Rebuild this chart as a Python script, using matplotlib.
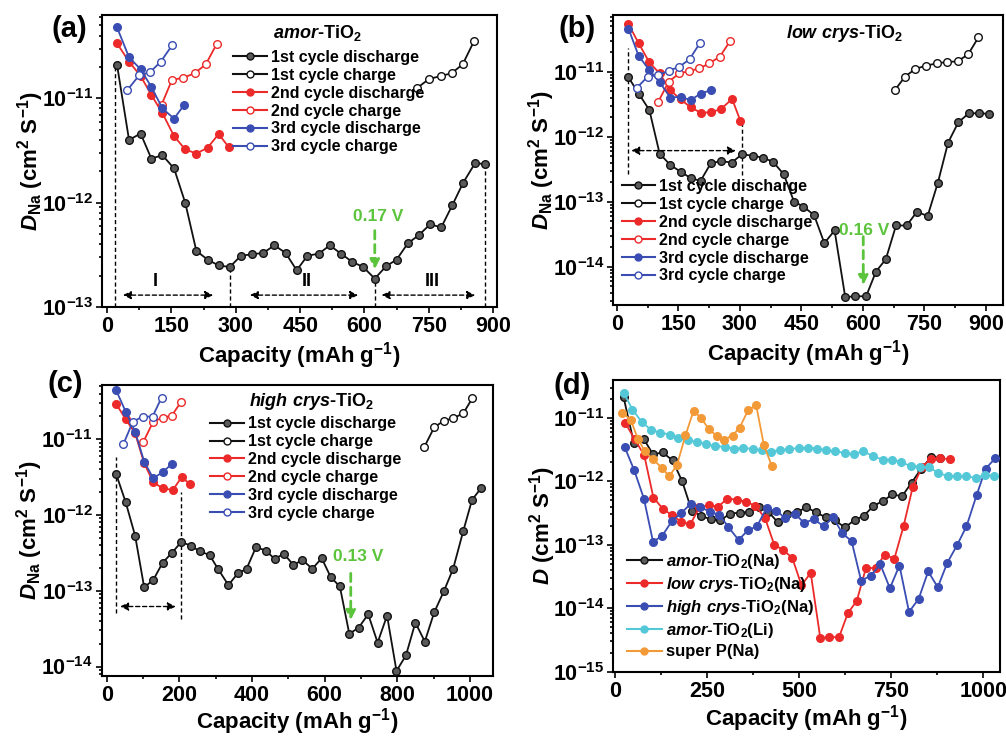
import numpy as np
import matplotlib
matplotlib.use('Agg')
import matplotlib.pyplot as plt
from matplotlib.ticker import LogLocator, MultipleLocator, NullFormatter, FuncFormatter, FixedLocator
from matplotlib.lines import Line2D

plt.rcParams['font.family'] = ['Liberation Sans', 'DejaVu Sans']
plt.rcParams['font.weight'] = 'bold'
plt.rcParams['axes.labelweight'] = 'bold'
plt.rcParams['mathtext.fontset'] = 'custom'
plt.rcParams['mathtext.rm'] = 'Liberation Sans:bold'
plt.rcParams['mathtext.bf'] = 'Liberation Sans:bold'
plt.rcParams['mathtext.sf'] = 'Liberation Sans:bold'
plt.rcParams['mathtext.it'] = 'Liberation Sans:italic:bold'

# ---------------- data ----------------
# (a) amor-TiO2
a_dis1_x = [23, 51, 78, 103, 129, 156, 182, 208, 234, 260, 286, 312, 338, 364, 390, 416, 442, 467, 494,
            519, 545, 572, 597, 624, 650, 675, 701, 727, 753, 779, 805, 830, 858, 881]
a_dis1_y = [2.1e-11, 4.0e-12, 4.6e-12, 2.65e-12, 2.85e-12, 2.13e-12, 1.0e-12, 3.45e-13, 2.85e-13, 2.5e-13,
            2.42e-13, 3.1e-13, 3.2e-13, 3.3e-13, 3.9e-13, 3.3e-13, 2.25e-13, 3.1e-13, 3.25e-13, 3.9e-13,
            3.25e-13, 2.7e-13, 2.42e-13, 1.87e-13, 2.45e-13, 2.85e-13, 4.07e-13, 4.9e-13, 6.2e-13, 5.8e-13,
            9.5e-13, 1.55e-12, 2.4e-12, 2.34e-12]
a_chg1_x = [723, 750, 778, 803, 829, 856]
a_chg1_y = [1.26e-11, 1.53e-11, 1.64e-11, 1.74e-11, 2.12e-11, 3.58e-11]
a_dis2_x = [23, 51, 78, 103, 129, 156, 182, 208, 234, 260, 283]
a_dis2_y = [3.37e-11, 2.25e-11, 1.64e-11, 1.08e-11, 7.2e-12, 4.35e-12, 3.24e-12, 2.96e-12, 3.36e-12,
            4.55e-12, 3.43e-12]
a_chg2_x = [127, 151, 178, 204, 230, 255]
a_chg2_y = [8.7e-12, 1.5e-11, 1.58e-11, 1.74e-11, 2.12e-11, 3.3e-11]
a_dis3_x = [23, 51, 78, 103, 129, 156, 179]
a_dis3_y = [4.8e-11, 2.48e-11, 1.9e-11, 1.29e-11, 8.0e-12, 6.4e-12, 8.6e-12]
a_chg3_x = [47, 75, 100, 125, 152]
a_chg3_y = [1.2e-11, 1.67e-11, 1.78e-11, 2.25e-11, 3.25e-11]

# (b) low crys-TiO2
b_dis1_x = [28, 53, 79, 104, 130, 155, 180, 204, 229, 254, 280, 305, 331, 356, 381, 407, 432, 455, 481,
            506, 531, 557, 582, 608, 632, 656, 681, 707, 732, 758, 783, 808, 833, 858, 883, 908]
b_dis1_y = [8.2e-12, 4.6e-12, 2.57e-12, 5.5e-13, 3.67e-13, 2.9e-13, 2.3e-13, 2.09e-13, 3.9e-13, 4.2e-13,
            4.0e-13, 5.35e-13, 5.1e-13, 4.75e-13, 4.1e-13, 2.63e-13, 1.0e-13, 8.4e-14, 6.2e-14, 2.3e-14,
            3.6e-14, 3.4e-15, 3.5e-15, 3.5e-15, 8.4e-15, 1.3e-14, 4.3e-14, 4.3e-14, 7.0e-14, 6.0e-14,
            1.95e-13, 8.1e-13, 1.66e-12, 2.28e-12, 2.3e-12, 2.24e-12]
b_chg1_x = [678, 703, 728, 754, 780, 805, 831, 857, 882]
b_chg1_y = [5.2e-12, 8.4e-12, 1.1e-11, 1.24e-11, 1.34e-11, 1.41e-11, 1.44e-11, 1.85e-11, 3.37e-11]
b_dis2_x = [28, 53, 79, 104, 130, 155, 180, 204, 229, 254, 281, 301]
b_dis2_y = [5.4e-11, 2.73e-11, 1.39e-11, 9.4e-12, 5.2e-12, 3.75e-12, 2.83e-12, 2.34e-12, 2.37e-12,
            2.67e-12, 3.8e-12, 1.76e-12]
b_chg2_x = [100, 126, 152, 176, 201, 225, 251, 276]
b_chg2_y = [3.37e-12, 7.0e-12, 9.4e-12, 1.02e-11, 1.12e-11, 1.34e-11, 1.7e-11, 2.96e-11]
b_dis3_x = [28, 53, 79, 104, 130, 155, 180, 204, 229]
b_dis3_y = [4.6e-11, 1.74e-11, 1.06e-11, 6.9e-12, 4.0e-12, 4.1e-12, 3.66e-12, 4.6e-12, 5.2e-12]
b_chg3_x = [49, 75, 101, 126, 152, 177, 203]
b_chg3_y = [5.7e-12, 8.4e-12, 8.9e-12, 1.03e-11, 1.19e-11, 1.55e-11, 2.8e-11]

# (c) high crys-TiO2
c_dis1_x = [26, 52, 78, 103, 128, 154, 180, 205, 231, 257, 283, 307, 335, 361, 385, 411, 438, 462, 488,
            514, 539, 566, 592, 617, 642, 668, 694, 720, 746, 772, 798, 824, 850, 876, 902, 929, 954, 982,
            1006, 1032]
c_dis1_y = [3.45e-12, 1.48e-12, 5.35e-13, 1.11e-13, 1.39e-13, 2.35e-13, 3.19e-13, 4.4e-13, 3.95e-13,
            3.3e-13, 2.97e-13, 1.92e-13, 1.19e-13, 1.7e-13, 1.95e-13, 3.76e-13, 3.4e-13, 2.64e-13, 3.07e-13,
            2.19e-13, 2.55e-13, 1.95e-13, 2.69e-13, 1.51e-13, 1.14e-13, 2.7e-14, 3.27e-14, 4.9e-14, 2.07e-14,
            4.7e-14, 8.75e-15, 1.4e-14, 3.8e-14, 2.14e-14, 5.2e-14, 1.0e-13, 1.95e-13, 6.17e-13, 1.58e-12,
            2.3e-12]
c_chg1_x = [874, 902, 929, 954, 982, 1007]
c_chg1_y = [7.8e-12, 1.44e-11, 1.76e-11, 1.89e-11, 2.2e-11, 3.48e-11]
c_dis2_x = [26, 52, 78, 103, 128, 154, 182, 206, 229]
c_dis2_y = [2.92e-11, 1.84e-11, 1.2e-11, 4.82e-12, 2.71e-12, 2.25e-12, 2.14e-12, 3.15e-12, 2.57e-12]
c_chg2_x = [101, 128, 154, 179, 205]
c_chg2_y = [9.3e-12, 1.71e-11, 1.93e-11, 2.05e-11, 3.14e-11]
c_dis3_x = [26, 52, 78, 103, 128, 156, 179]
c_dis3_y = [4.4e-11, 2.32e-11, 1.26e-11, 5.07e-12, 3.05e-12, 3.74e-12, 4.72e-12]
c_chg3_x = [46, 72, 99, 126, 151]
c_chg3_y = [8.7e-12, 1.71e-11, 1.99e-11, 1.99e-11, 3.55e-11]

# (d) extra series
d_li_x = [23, 47, 72, 98, 122, 148, 172, 197, 222, 247, 272, 299, 323, 348, 373, 398, 423, 448, 473, 498,
          523, 548, 573, 597, 623, 649, 674, 700, 726, 751, 776, 803, 828, 853, 878, 903, 928, 953, 980,
          1005, 1029]
d_li_y = [2.48e-11, 1.35e-11, 8.65e-12, 6.4e-12, 5.86e-12, 5.45e-12, 4.83e-12, 4.44e-12, 4.18e-12, 3.84e-12,
          3.57e-12, 3.49e-12, 3.28e-12, 3.36e-12, 3.24e-12, 3.09e-12, 2.94e-12, 3.09e-12, 3.24e-12, 3.32e-12,
          3.4e-12, 3.28e-12, 3.09e-12, 2.98e-12, 2.8e-12, 2.67e-12, 2.98e-12, 2.48e-12, 2.2e-12, 2.2e-12,
          2.02e-12, 1.72e-12, 1.7e-12, 1.65e-12, 1.35e-12, 1.21e-12, 1.2e-12, 1.2e-12, 1.13e-12, 1.27e-12,
          1.2e-12]
d_sp_x = [19, 42, 62, 81, 103, 126, 147, 168, 191, 213, 233, 254, 276, 296, 319, 338, 362, 383, 404, 425]
d_sp_y = [1.2e-11, 9.4e-12, 4.6e-12, 2.98e-12, 2.22e-12, 1.64e-12, 1.2e-12, 1.81e-12, 5.3e-12, 1.29e-11,
          1.0e-11, 6.7e-12, 5.14e-12, 4.55e-12, 5.26e-12, 7.0e-12, 1.35e-11, 1.57e-11, 3.7e-12, 1.77e-12]

cycle_labels = ['1st cycle discharge', '1st cycle charge', '2nd cycle discharge',
                '2nd cycle charge', '3rd cycle discharge', '3rd cycle charge']
d_labels = [r'$\mathit{amor}$-TiO$_2$(Na)', r'$\mathit{low\ crys}$-TiO$_2$(Na)',
            r'$\mathit{high\ crys}$-TiO$_2$(Na)', r'$\mathit{amor}$-TiO$_2$(Li)', 'super P(Na)']

BLACK = '#111111'
GRAY = '#5a5a5a'
RED = '#ec2a2a'
BLUE = '#3a4db2'
CYAN = '#55c8d8'
ORANGE = '#f39a38'
GREEN = '#5cc43c'

W, H = 1006, 736
fig = plt.figure(figsize=(W / 100, H / 100), dpi=100)


def make_ax(l, t, r, b):
    return fig.add_axes([l / W, 1 - b / H, (r - l) / W, (b - t) / H])


axA = make_ax(102, 15, 497, 307)
axB = make_ax(613.3, 15, 1003, 305)
axC = make_ax(101.7, 385, 492.7, 676)
axD = make_ax(613.3, 380, 1000, 671.7)

log_fmt = FuncFormatter(lambda v, p: r'$10^{%d}$' % int(round(np.log10(v))))


def style(ax, xlim, ylim, xmaj, xmax_tick, ylabel, ypad=-3, xpad=2):
    ax.set_yscale('log')
    ax.set_xlim(*xlim)
    ax.set_ylim(*ylim)
    ax.xaxis.set_major_locator(FixedLocator(np.arange(0, xmax_tick + 1, xmaj)))
    ax.xaxis.set_minor_locator(MultipleLocator(xmaj / 2))
    lo = int(np.ceil(np.log10(ylim[0]) - 1e-9))
    hi = int(np.floor(np.log10(ylim[1]) + 1e-9))
    ax.yaxis.set_major_locator(FixedLocator([10.0 ** e for e in range(lo, hi + 1)]))
    ax.yaxis.set_minor_locator(LogLocator(base=10, subs=np.arange(2, 10), numticks=20))
    ax.yaxis.set_major_formatter(log_fmt)
    ax.yaxis.set_minor_formatter(NullFormatter())
    ax.tick_params(which='both', direction='out', top=False, right=False, width=1.2)
    ax.tick_params(which='major', length=4.5, labelsize=15.5, pad=2)
    ax.tick_params(which='minor', length=2.5)
    for s in ax.spines.values():
        s.set_linewidth(1.5)
    ax.set_xlabel(r'Capacity (mAh g$^{-1}$)', fontsize=16, fontweight='bold', labelpad=xpad)
    ax.set_ylabel(ylabel, fontsize=16, fontweight='bold', labelpad=ypad)


def series(ax, x, y, color, filled, fc=None, ms=5.5, lw=1.3):
    ax.plot(x, y, '-', color=color, lw=lw, marker='o', ms=ms,
            mfc=(fc if filled else 'white'), mec=color, mew=1.0, zorder=3)


def handle(color, filled, fc=None, ms=5.0, lw=1.5):
    return Line2D([], [], color=color, lw=lw, marker='o', ms=ms,
                  mfc=(fc if filled else 'white'), mec=color, mew=1.0)


def cycle_panel(ax, d1, c1, d2, c2, d3, c3):
    series(ax, *d1, BLACK, True, GRAY)
    series(ax, *c1, BLACK, False)
    series(ax, *d2, RED, True, RED)
    series(ax, *c2, RED, False)
    series(ax, *d3, BLUE, True, BLUE)
    series(ax, *c3, BLUE, False)


def cycle_handles():
    return [handle(BLACK, True, GRAY), handle(BLACK, False), handle(RED, True, RED),
            handle(RED, False), handle(BLUE, True, BLUE), handle(BLUE, False)]


def legend(ax, handles, labels, x, y, fs=11.5, ls=0.18, loc='upper left'):
    ax.legend(handles, labels, loc=loc, bbox_to_anchor=(x / W, 1 - y / H),
              bbox_transform=fig.transFigure, frameon=False,
              prop={'size': fs, 'weight': 'bold'},
              borderpad=0, borderaxespad=0, handlelength=2.1, handletextpad=0.25,
              labelspacing=ls)


def vdash(ax, x, y0, y1):
    ax.plot([x, x], [y0, y1], color='k', lw=1.0, ls=(0, (3, 2)), zorder=2)


def harrow(ax, x0, x1, y):
    ax.annotate('', xy=(x1, y), xytext=(x0, y),
                arrowprops=dict(arrowstyle='<|-|>', color='k', lw=1.0, ls=(0, (3, 2)),
                                mutation_scale=12, shrinkA=0, shrinkB=0))


def green(ax, txt, tx, ty, ax_x, y0, y1):
    ax.text(tx, ty, txt, color=GREEN, fontsize=12.5, fontweight='bold', ha='center', va='center')
    ax.annotate('', xy=(ax_x, y1), xytext=(ax_x, y0),
                arrowprops=dict(arrowstyle='-|>', color=GREEN, lw=2.0, ls=(0, (3, 2)),
                                mutation_scale=14, shrinkA=0, shrinkB=0))


# ---------------- (a) ----------------
cycle_panel(axA, (a_dis1_x, a_dis1_y), (a_chg1_x, a_chg1_y), (a_dis2_x, a_dis2_y),
            (a_chg2_x, a_chg2_y), (a_dis3_x, a_dis3_y), (a_chg3_x, a_chg3_y))
style(axA, (-12, 909), (1e-13, 6.3e-11), 150, 900, r'$D_{\mathrm{Na}}$ (cm$^{2}$ S$^{-1}$)')
vdash(axA, 18, 1e-13, 2.1e-11)
vdash(axA, 287, 1e-13, 2.42e-13)
vdash(axA, 624, 1e-13, 1.87e-13)
vdash(axA, 881, 1e-13, 2.34e-12)
harrow(axA, 37, 247, 1.3e-13)
harrow(axA, 333, 585, 1.3e-13)
harrow(axA, 640, 858, 1.3e-13)
for t, x in (('I', 113), ('II', 465), ('III', 758)):
    axA.text(x, 1.75e-13, t, fontsize=13, fontweight='bold', ha='center', va='center')
green(axA, '0.17 V', 632, 7.3e-13, 624, 5.4e-13, 2.3e-13)
legend(axA, cycle_handles(), cycle_labels, 233, 50)
fig.text(317 / W, 1 - 33 / H, r'$\mathit{amor}$-TiO$_2$', fontsize=13, fontweight='bold',
         ha='center', va='center')

# ---------------- (b) ----------------
cycle_panel(axB, (b_dis1_x, b_dis1_y), (b_chg1_x, b_chg1_y), (b_dis2_x, b_dis2_y),
            (b_chg2_x, b_chg2_y), (b_dis3_x, b_dis3_y), (b_chg3_x, b_chg3_y))
style(axB, (-9, 942), (2.57e-15, 7.45e-11), 150, 900, r'$D_{\mathrm{Na}}$ (cm$^{2}$ S$^{-1}$)')
vdash(axB, 27, 2.7e-13, 2.3e-11)
vdash(axB, 304, 2.6e-13, 1.8e-12)
harrow(axB, 35, 290, 6.1e-13)
green(axB, '0.16 V', 604, 3.66e-14, 601, 2.9e-14, 5.2e-15)
legend(axB, cycle_handles(), cycle_labels, 621.7, 179)
fig.text(845 / W, 1 - 33 / H, r'$\mathit{low\ crys}$-TiO$_2$', fontsize=13, fontweight='bold',
         ha='center', va='center')

# ---------------- (c) ----------------
cycle_panel(axC, (c_dis1_x, c_dis1_y), (c_chg1_x, c_chg1_y), (c_dis2_x, c_dis2_y),
            (c_chg2_x, c_chg2_y), (c_dis3_x, c_dis3_y), (c_chg3_x, c_chg3_y))
style(axC, (-14, 1063), (7.5e-15, 5.2e-11), 200, 1000, r'$D_{\mathrm{Na}}$ (cm$^{2}$ S$^{-1}$)',
      xpad=0)
vdash(axC, 26, 5.1e-14, 5.8e-12)
vdash(axC, 205, 4.3e-14, 2.0e-12)
harrow(axC, 37, 190, 6.2e-14)
green(axC, '0.13 V', 693, 2.8e-13, 672, 1.7e-13, 4.1e-14)
legend(axC, cycle_handles(), cycle_labels, 210, 416.3)
fig.text(311.7 / W, 1 - 401 / H, r'$\mathit{high\ crys}$-TiO$_2$', fontsize=13, fontweight='bold',
         ha='center', va='center')

# ---------------- (d) ----------------
series(axD, a_dis1_x, a_dis1_y, BLACK, True, GRAY)
series(axD, b_dis1_x, b_dis1_y, RED, True, RED)
series(axD, c_dis1_x, c_dis1_y, BLUE, True, BLUE)
series(axD, d_li_x, d_li_y, CYAN, True, CYAN)
series(axD, d_sp_x, d_sp_y, ORANGE, True, ORANGE)
style(axD, (-5, 1045), (1e-15, 3.94e-11), 250, 1000, r'$D$ (cm$^{2}$ S$^{-1}$)', ypad=-4, xpad=1)
d_handles = [handle(BLACK, True, GRAY), handle(RED, True, RED), handle(BLUE, True, BLUE),
             handle(CYAN, True, CYAN), handle(ORANGE, True, ORANGE)]
legend(axD, d_handles, d_labels, 626.7, 551.7, fs=12, ls=0.25)

for ax in (axA, axB, axC, axD):
    for lab in ax.get_xticklabels() + ax.get_yticklabels():
        lab.set_fontweight('bold')

# panel labels
for t, x, y in (('(a)', 69, 29), ('(b)', 576.7, 29), ('(c)', 65, 384), ('(d)', 571.7, 386)):
    fig.text(x / W, 1 - y / H, t, fontsize=21, fontweight='bold', ha='center', va='center')

fig.savefig('out.png', dpi=100)
